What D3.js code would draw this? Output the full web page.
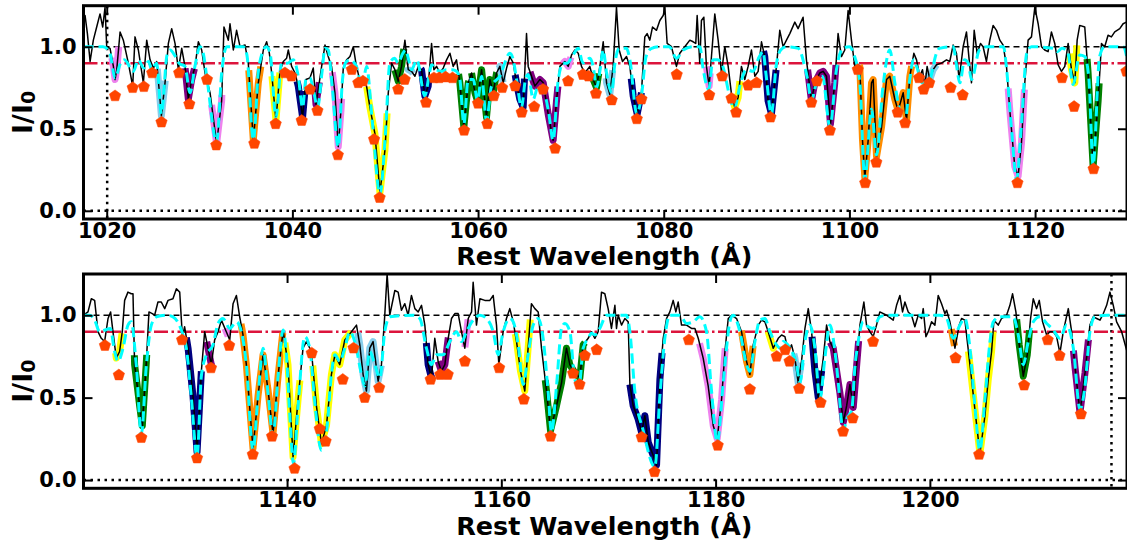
<!DOCTYPE html>
<html><head><meta charset="utf-8">
<script src="https://cdn.jsdelivr.net/npm/d3@7"></script>
<style>
body{margin:0;background:#fff;}
svg{display:block;font-family:"DejaVu Sans",sans-serif;}
</style></head><body>
<svg id="chart" width="1127" height="544"></svg>
<script>
// ---------------- DATA ----------------
const fluxDomain = [-0.05, 1.25];
const fluxTicks = [0.0, 0.5, 1.0];
const topWaveDomain = [1017.5, 1129.9];
const bottomWaveDomain = [1121.0, 1218.4];
const topWaveTicks = [1020, 1040, 1060, 1080, 1100, 1120];
const bottomWaveTicks = [1140, 1160, 1180, 1200];
const continuumLevel = 1.0;
const thresholdLevel = 0.9;
const zeroLevel = 0.0;
const topLimitWave = 1020.05;
const bottomLimitWave = 1216.95;
const xLabelText = "Rest Wavelength (Å)";

// observed spectrum, top panel [wavelength, I/I0]
const topObserved = [[1017.5,1.18],[1017.67,1.19],[1017.92,1.08],[1018.21,0.91],[1018.56,1.04],[1018.92,1.12],[1019.28,1.20],[1019.57,1.12],[1019.82,1.24],[1020.0,1.0],[1020.36,0.99],[1020.72,0.88],[1020.9,0.80],[1021.08,0.86],[1021.44,1.09],[1021.79,1.04],[1022.33,0.90],[1022.8,0.76],[1023.05,1.06],[1023.41,0.98],[1023.95,0.78],[1024.31,1.04],[1024.67,0.92],[1025.03,0.87],[1025.38,0.91],[1025.74,0.68],[1025.89,0.58],[1026.28,0.78],[1026.64,1.02],[1027.0,1.11],[1027.36,1.02],[1027.72,0.86],[1028.08,0.99],[1028.43,0.88],[1028.79,0.68],[1029.15,0.80],[1029.51,0.88],[1029.87,1.03],[1030.23,0.98],[1030.59,0.84],[1031.13,0.72],[1031.84,0.41],[1032.38,0.67],[1032.63,1.12],[1033.1,1.04],[1033.28,1.14],[1033.64,0.98],[1033.99,1.10],[1034.36,1.0],[1034.9,1.01],[1035.25,0.90],[1035.79,0.43],[1036.33,0.78],[1036.87,0.98],[1037.23,1.03],[1037.52,0.96],[1037.77,0.84],[1038.23,0.55],[1038.66,0.85],[1039.02,0.91],[1039.38,0.93],[1039.56,0.98],[1039.92,0.88],[1040.28,0.84],[1040.63,0.76],[1041.1,0.57],[1041.46,0.80],[1041.89,0.81],[1042.25,0.87],[1042.54,0.65],[1042.79,0.74],[1043.15,0.88],[1043.51,1.01],[1043.86,0.94],[1044.22,0.88],[1044.58,0.72],[1044.94,0.39],[1045.23,0.61],[1045.48,0.87],[1045.84,0.92],[1046.2,0.94],[1046.56,1.0],[1046.84,0.90],[1047.27,0.79],[1047.63,0.78],[1047.99,0.76],[1048.35,0.63],[1048.89,0.47],[1049.43,0.11],[1049.97,0.37],[1050.33,0.72],[1050.68,0.90],[1051.04,0.86],[1051.4,0.79],[1051.76,0.88],[1052.12,1.04],[1052.48,0.86],[1052.84,0.85],[1053.2,0.82],[1053.56,0.88],[1053.91,0.86],[1054.27,0.70],[1054.63,0.76],[1054.99,1.02],[1055.24,0.86],[1055.53,0.88],[1055.89,0.84],[1056.25,0.87],[1056.61,0.92],[1056.97,0.96],[1057.32,0.88],[1057.68,0.92],[1058.04,0.78],[1058.47,0.51],[1058.94,0.78],[1059.3,0.84],[1059.66,0.72],[1059.94,0.67],[1060.38,0.86],[1060.91,0.57],[1061.27,0.80],[1061.63,0.72],[1061.99,0.84],[1062.35,0.88],[1062.71,0.78],[1063.07,0.87],[1063.43,0.94],[1063.79,0.90],[1064.14,0.78],[1064.5,0.68],[1064.86,0.63],[1065.22,1.08],[1065.4,0.88],[1065.76,0.82],[1066.12,0.76],[1066.66,0.80],[1067.02,0.78],[1067.55,0.59],[1068.09,0.43],[1068.45,0.67],[1068.81,0.88],[1069.35,0.91],[1069.71,0.88],[1070.07,0.95],[1070.43,0.98],[1070.79,0.96],[1071.14,0.88],[1071.5,0.84],[1072.04,0.88],[1072.4,0.80],[1072.76,0.75],[1073.12,0.88],[1073.48,1.03],[1073.84,0.78],[1074.19,0.71],[1074.55,0.88],[1074.91,1.24],[1075.2,0.98],[1075.56,0.91],[1075.99,0.94],[1076.35,0.88],[1076.71,0.70],[1077.14,0.59],[1077.6,0.72],[1077.96,1.06],[1078.21,1.08],[1078.5,1.04],[1078.79,1.12],[1079.22,1.10],[1079.58,1.16],[1079.94,1.19],[1080.12,1.24],[1080.37,1.02],[1080.83,1.0],[1081.37,0.88],[1081.73,0.96],[1082.27,1.0],[1082.81,1.04],[1083.17,1.03],[1083.45,1.02],[1083.6,1.19],[1083.88,0.90],[1084.06,1.16],[1084.32,1.18],[1084.6,0.88],[1084.89,0.76],[1085.14,0.94],[1085.5,1.20],[1085.86,1.04],[1086.22,0.84],[1086.58,1.0],[1086.94,0.88],[1087.3,0.71],[1087.65,0.63],[1088.01,0.69],[1088.37,0.88],[1088.73,0.80],[1089.09,0.88],[1089.45,0.98],[1089.81,0.82],[1090.17,0.85],[1090.53,1.03],[1090.88,0.94],[1091.24,0.67],[1091.6,0.59],[1092.14,0.88],[1092.5,1.10],[1092.86,1.0],[1093.22,1.04],[1093.58,1.08],[1094.12,1.15],[1094.47,1.11],[1095.01,1.18],[1095.37,0.92],[1095.91,0.67],[1096.27,0.78],[1096.81,0.84],[1097.17,0.85],[1097.53,0.82],[1097.96,0.53],[1098.42,0.78],[1098.78,1.08],[1099.14,0.94],[1099.5,0.98],[1099.86,1.22],[1100.22,1.04],[1100.58,0.88],[1100.76,0.90],[1101.12,0.88],[1101.41,0.43],[1101.66,0.20],[1102.02,0.43],[1102.38,0.78],[1102.56,0.80],[1102.92,0.33],[1103.46,0.51],[1104.0,0.80],[1104.35,0.82],[1104.89,0.68],[1105.25,0.61],[1105.79,0.72],[1106.15,0.55],[1106.51,0.82],[1106.94,0.96],[1107.23,0.92],[1107.58,0.82],[1107.87,0.86],[1108.12,0.76],[1108.37,0.88],[1108.66,0.80],[1109.02,0.86],[1109.38,0.89],[1109.92,0.90],[1110.46,0.92],[1110.81,0.91],[1111.17,1.01],[1111.53,0.96],[1111.82,0.80],[1112.25,1.0],[1112.61,1.09],[1112.9,0.92],[1113.15,0.78],[1113.44,1.10],[1113.76,0.96],[1114.12,1.02],[1114.4,1.0],[1114.76,0.91],[1115.12,1.04],[1115.48,1.13],[1115.84,1.10],[1116.2,1.04],[1116.56,1.01],[1116.92,0.88],[1117.28,0.61],[1117.81,0.27],[1118.17,0.21],[1118.53,0.41],[1118.89,0.78],[1119.25,1.04],[1119.61,1.06],[1119.97,1.24],[1120.33,1.14],[1120.69,1.0],[1121.04,0.98],[1121.4,0.97],[1121.76,1.09],[1122.12,1.02],[1122.48,0.89],[1122.84,0.85],[1123.2,0.88],[1123.56,1.02],[1123.92,0.86],[1124.28,0.78],[1124.53,1.04],[1124.81,1.13],[1125.35,1.12],[1125.71,0.84],[1126.25,0.27],[1126.79,0.67],[1127.15,1.02],[1127.5,1.0],[1127.86,1.07],[1128.22,1.06],[1128.58,1.09],[1129.12,1.11],[1129.48,1.14],[1129.84,1.15]];

// fitted model, top panel
const topModel = [[1017.5,1.0],[1019.6,1.0],[1020.3,0.97],[1020.9,0.81],[1021.5,0.90],[1021.9,0.92],[1022.87,0.85],[1023.4,0.92],[1024.0,0.87],[1024.5,0.91],[1024.85,0.86],[1025.38,0.90],[1025.89,0.59],[1026.5,0.95],[1026.82,0.98],[1027.4,0.94],[1027.8,0.90],[1028.43,0.88],[1028.97,0.72],[1029.5,0.88],[1030.05,1.0],[1030.4,0.96],[1030.77,0.82],[1031.84,0.42],[1032.4,0.85],[1032.92,1.0],[1034.72,1.0],[1035.1,0.95],[1035.79,0.43],[1036.4,0.88],[1037.2,1.0],[1037.6,0.96],[1038.23,0.57],[1038.84,0.90],[1039.5,0.90],[1040.1,0.92],[1040.63,0.82],[1041.1,0.63],[1041.46,0.80],[1041.89,0.81],[1042.25,0.74],[1042.72,0.63],[1043.2,0.85],[1043.51,0.99],[1043.86,0.98],[1044.3,0.75],[1044.94,0.39],[1045.4,0.80],[1045.7,0.90],[1046.2,0.92],[1046.9,0.88],[1047.3,0.80],[1047.63,0.80],[1047.99,0.88],[1048.6,0.55],[1049.43,0.10],[1050.0,0.45],[1050.5,0.90],[1051.0,0.93],[1051.4,0.90],[1051.9,0.96],[1052.2,0.98],[1052.48,0.93],[1052.84,0.86],[1053.4,0.92],[1054.27,0.70],[1054.8,0.85],[1055.0,0.89],[1055.5,0.86],[1056.0,0.85],[1056.6,0.86],[1057.2,0.86],[1057.68,0.85],[1058.04,0.80],[1058.47,0.53],[1058.94,0.80],[1059.48,0.80],[1059.94,0.67],[1060.38,0.82],[1060.91,0.55],[1061.45,0.76],[1062.35,0.82],[1063.43,0.96],[1063.79,0.92],[1064.2,0.78],[1064.68,0.63],[1065.1,0.80],[1065.4,0.83],[1065.94,0.68],[1066.48,0.76],[1067.02,0.74],[1067.6,0.60],[1068.09,0.43],[1068.6,0.78],[1069.17,0.90],[1069.6,0.90],[1070.24,0.95],[1070.79,0.99],[1071.3,0.90],[1072.04,0.93],[1072.4,0.88],[1072.76,0.75],[1073.12,0.85],[1073.48,0.98],[1073.84,0.84],[1074.4,0.72],[1074.7,0.88],[1075.2,0.99],[1075.99,0.99],[1076.35,0.92],[1077.1,0.59],[1077.6,0.70],[1078.1,0.94],[1078.7,0.99],[1079.6,1.0],[1080.6,1.0],[1081.37,0.93],[1082.1,0.98],[1083.2,1.0],[1083.9,1.0],[1084.2,0.88],[1084.85,0.74],[1085.3,0.92],[1085.8,0.92],[1086.3,0.89],[1087.1,0.70],[1087.6,0.62],[1088.2,0.76],[1088.9,0.86],[1089.6,0.85],[1090.3,0.94],[1090.7,0.97],[1091.0,0.84],[1091.6,0.59],[1092.1,0.88],[1092.6,0.98],[1093.2,1.0],[1094.5,0.99],[1095.1,0.90],[1095.5,0.80],[1095.9,0.67],[1096.4,0.77],[1097.1,0.82],[1097.9,0.51],[1098.6,0.86],[1099.3,0.99],[1100.0,1.0],[1100.5,0.95],[1101.12,0.78],[1101.66,0.19],[1102.38,0.62],[1102.92,0.34],[1103.6,0.75],[1104.35,0.98],[1104.89,0.78],[1105.4,0.61],[1105.97,0.53],[1106.5,0.80],[1106.9,0.92],[1107.23,0.88],[1107.87,0.78],[1108.5,0.78],[1109.38,0.96],[1109.7,0.99],[1111.2,1.0],[1111.5,0.90],[1111.9,0.78],[1112.4,0.92],[1112.8,0.90],[1113.15,0.80],[1114.0,0.98],[1114.8,1.0],[1116.6,1.0],[1116.9,0.88],[1117.5,0.47],[1118.0,0.19],[1118.5,0.50],[1119.1,0.96],[1119.6,1.0],[1122.0,0.99],[1122.4,0.97],[1122.9,0.99],[1123.5,0.97],[1124.1,0.77],[1124.8,0.95],[1125.35,0.94],[1125.8,0.80],[1126.25,0.28],[1126.95,0.94],[1127.5,1.0],[1129.5,1.0],[1129.9,0.93]];

// fitted line centres, top panel
const topCentres = [[1020.9,0.70],[1022.8,0.75],[1024.0,0.756],[1024.9,0.84],[1025.9,0.54],[1027.8,0.84],[1028.9,0.65],[1030.8,0.80],[1031.8,0.40],[1035.9,0.41],[1038.2,0.53],[1039.2,0.84],[1039.9,0.82],[1041.0,0.55],[1041.9,0.74],[1042.7,0.61],[1044.9,0.34],[1046.4,0.86],[1047.1,0.78],[1047.6,0.79],[1048.8,0.435],[1049.4,0.08],[1051.4,0.74],[1052.1,0.80],[1054.4,0.66],[1055.25,0.81],[1055.8,0.81],[1056.5,0.815],[1057.25,0.81],[1058.5,0.49],[1060.0,0.655],[1061.0,0.53],[1061.7,0.70],[1062.6,0.75],[1064.0,0.76],[1064.7,0.60],[1066.05,0.634],[1067.0,0.74],[1068.3,0.38],[1069.7,0.79],[1071.3,0.83],[1071.9,0.82],[1072.7,0.715],[1074.4,0.675],[1077.1,0.56],[1077.6,0.68],[1081.4,0.83],[1084.9,0.705],[1086.3,0.82],[1087.3,0.685],[1087.8,0.60],[1089.1,0.765],[1090.0,0.78],[1091.5,0.57],[1095.9,0.66],[1096.5,0.79],[1097.9,0.49],[1100.9,0.86],[1101.7,0.17],[1102.9,0.295],[1105.2,0.60],[1106.0,0.535],[1107.5,0.81],[1108.0,0.74],[1108.6,0.78],[1110.9,0.75],[1112.2,0.705],[1118.1,0.17],[1122.9,0.81],[1124.2,0.635],[1126.3,0.255],[1129.84,0.85]];

// absorber components, top panel [start, end, component]
const topComponents = [[1020.55,1021.3,"A"],[1025.45,1026.3,"B"],[1028.45,1029.45,"C"],[1031.3,1032.4,"A"],[1035.3,1036.6,"D"],[1037.8,1038.65,"E"],[1040.5,1041.35,"F"],[1042.4,1042.9,"C"],[1044.3,1045.3,"A"],[1048.0,1050.2,"E"],[1051.05,1052.0,"G"],[1052.45,1053.0,"B"],[1053.85,1054.7,"F"],[1057.9,1059.0,"G"],[1059.3,1062.0,"G"],[1062.25,1062.7,"B"],[1064.0,1065.0,"F"],[1065.6,1068.6,"C"],[1069.1,1070.0,"A"],[1072.2,1073.0,"G"],[1073.8,1074.5,"B"],[1076.5,1077.6,"F"],[1084.6,1085.0,"A"],[1087.3,1088.2,"E"],[1090.75,1092.1,"F"],[1095.5,1098.55,"C"],[1101.1,1106.7,"D"],[1108.5,1109.4,"B"],[1117.1,1118.85,"A"],[1123.7,1124.5,"E"],[1125.6,1126.9,"G"]];

// observed spectrum, bottom panel
const bottomObserved = [[1121.0,1.0],[1121.42,1.02],[1121.73,1.10],[1122.04,1.09],[1122.35,0.90],[1122.66,0.86],[1122.97,0.84],[1123.29,0.98],[1123.53,1.02],[1123.75,0.90],[1124.06,0.74],[1124.37,0.78],[1124.62,0.90],[1124.84,1.09],[1125.15,1.14],[1125.46,1.13],[1125.62,1.13],[1125.77,0.70],[1126.24,0.45],[1126.49,0.33],[1126.86,0.71],[1127.11,1.02],[1127.42,1.01],[1127.64,1.0],[1127.95,1.08],[1128.26,1.08],[1128.58,1.04],[1128.89,1.09],[1129.35,1.10],[1129.67,1.16],[1129.98,1.14],[1130.23,0.87],[1130.44,0.93],[1130.76,0.80],[1131.22,0.51],[1131.6,0.17],[1132.0,0.66],[1132.31,0.90],[1132.62,0.80],[1132.93,0.70],[1133.24,0.85],[1133.56,0.90],[1133.87,0.97],[1134.33,0.90],[1134.65,0.85],[1134.96,1.07],[1135.27,1.12],[1135.58,0.99],[1135.89,0.88],[1136.2,0.70],[1136.82,0.19],[1137.29,0.51],[1137.76,0.76],[1138.22,0.55],[1138.69,0.28],[1139.16,0.63],[1139.63,0.91],[1140.09,0.70],[1140.56,0.14],[1141.03,0.49],[1141.49,0.80],[1141.81,0.84],[1142.28,0.78],[1142.74,0.45],[1143.21,0.22],[1143.68,0.33],[1144.14,0.64],[1144.46,0.76],[1144.92,0.70],[1145.39,0.85],[1146.01,0.90],[1146.48,0.94],[1146.79,0.82],[1147.1,0.64],[1147.41,0.54],[1147.72,0.80],[1148.03,0.84],[1148.5,0.60],[1148.81,0.70],[1149.12,1.0],[1149.34,1.25],[1149.59,1.0],[1150.06,1.15],[1150.37,1.14],[1150.68,1.03],[1150.99,1.07],[1151.3,1.0],[1151.61,1.12],[1151.93,1.04],[1152.24,1.02],[1152.55,1.06],[1152.86,0.94],[1153.17,0.70],[1153.48,0.62],[1153.79,0.86],[1154.1,0.72],[1154.41,0.66],[1154.73,0.70],[1155.04,0.86],[1155.35,0.98],[1155.66,1.01],[1155.97,1.01],[1156.28,0.90],[1156.59,0.80],[1156.91,0.98],[1157.22,1.02],[1157.37,1.20],[1157.68,0.94],[1158.0,1.10],[1158.46,1.09],[1158.93,1.09],[1159.24,1.12],[1159.55,0.94],[1159.77,0.70],[1160.17,0.90],[1160.48,0.98],[1160.79,1.04],[1161.11,0.96],[1161.42,0.84],[1161.79,0.66],[1162.19,0.54],[1162.5,0.80],[1162.81,1.07],[1163.13,1.04],[1163.44,1.02],[1163.75,0.80],[1164.22,0.54],[1164.59,0.30],[1165.15,0.45],[1165.62,0.59],[1166.08,0.80],[1166.39,0.70],[1166.86,0.65],[1167.33,0.62],[1167.64,0.82],[1168.11,0.86],[1168.42,0.90],[1168.73,0.86],[1169.04,0.90],[1169.35,1.14],[1169.66,1.13],[1169.97,1.04],[1170.28,0.92],[1170.6,1.06],[1170.75,0.92],[1170.91,1.0],[1171.22,0.94],[1171.53,0.98],[1171.84,0.96],[1172.0,0.58],[1172.31,0.45],[1172.77,0.37],[1173.09,0.29],[1173.4,0.39],[1173.71,0.23],[1174.17,0.15],[1174.49,0.09],[1174.8,0.61],[1175.11,0.86],[1175.42,0.98],[1175.73,1.02],[1176.04,1.09],[1176.29,1.02],[1176.51,1.08],[1176.82,0.94],[1177.29,0.94],[1177.75,0.92],[1178.07,0.92],[1178.38,0.86],[1178.84,0.74],[1179.31,0.57],[1179.78,0.33],[1180.15,0.25],[1180.56,0.49],[1180.87,0.78],[1181.18,0.98],[1181.49,1.0],[1181.96,0.98],[1182.42,0.90],[1182.89,0.72],[1183.2,0.64],[1183.51,0.82],[1183.98,0.94],[1184.29,0.97],[1184.6,0.96],[1184.91,0.90],[1185.38,0.80],[1185.85,0.86],[1186.16,0.88],[1186.47,0.87],[1186.78,0.78],[1187.09,0.82],[1187.4,0.74],[1187.71,0.59],[1188.02,0.72],[1188.34,0.92],[1188.65,1.04],[1188.96,0.90],[1189.27,0.66],[1189.58,0.50],[1190.05,0.74],[1190.36,0.94],[1190.67,0.84],[1190.98,0.80],[1191.6,0.53],[1191.92,0.35],[1192.23,0.45],[1192.54,0.58],[1192.85,0.44],[1193.32,0.82],[1193.47,0.94],[1193.84,1.08],[1194.09,0.94],[1194.4,0.90],[1194.71,0.87],[1195.02,0.94],[1195.33,1.02],[1195.96,1.0],[1196.58,0.97],[1196.89,1.06],[1197.2,1.12],[1197.45,1.02],[1197.67,1.08],[1197.98,1.02],[1198.29,1.0],[1198.6,0.93],[1198.91,1.0],[1199.23,0.98],[1199.38,1.04],[1199.63,0.87],[1199.85,0.90],[1200.16,0.96],[1200.47,0.94],[1200.78,1.12],[1201.09,1.07],[1201.4,1.01],[1201.56,1.03],[1201.87,0.96],[1202.34,0.80],[1202.74,0.94],[1202.96,0.98],[1203.27,0.97],[1203.74,0.70],[1204.2,0.43],[1204.67,0.16],[1205.14,0.39],[1205.45,0.61],[1205.76,0.78],[1205.98,0.97],[1206.38,0.94],[1206.69,0.98],[1207.16,1.0],[1207.47,1.06],[1207.72,1.13],[1208.03,1.02],[1208.34,0.82],[1208.72,0.63],[1209.09,0.76],[1209.4,0.98],[1209.65,1.10],[1209.96,1.04],[1210.21,1.09],[1210.52,0.96],[1210.9,0.88],[1211.21,0.90],[1211.52,0.90],[1211.83,0.87],[1212.14,0.77],[1212.45,0.90],[1212.92,1.04],[1213.23,0.90],[1213.54,0.69],[1214.01,0.41],[1214.48,0.65],[1214.94,0.94],[1215.25,0.99],[1215.57,0.98],[1215.88,0.97],[1216.19,1.01],[1216.5,1.06],[1216.81,1.14],[1217.12,1.06],[1217.43,0.96],[1217.9,0.90],[1218.4,0.78]];

// fitted model, bottom panel
const bottomModel = [[1121.0,1.0],[1121.6,1.0],[1122.04,0.97],[1122.51,0.90],[1123.0,0.91],[1123.5,0.92],[1123.9,0.78],[1124.22,0.72],[1124.69,0.80],[1125.15,0.94],[1125.46,0.96],[1125.93,0.69],[1126.4,0.28],[1126.86,0.69],[1127.33,0.94],[1127.8,0.99],[1128.73,1.0],[1129.35,0.99],[1130.13,0.91],[1130.6,0.80],[1131.07,0.50],[1131.6,0.14],[1132.0,0.63],[1132.47,0.76],[1133.09,0.82],[1133.56,0.95],[1134.02,0.98],[1134.65,0.92],[1135.27,0.96],[1135.74,0.90],[1136.2,0.70],[1136.82,0.18],[1137.29,0.51],[1137.76,0.80],[1138.22,0.53],[1138.69,0.27],[1139.16,0.63],[1139.63,0.91],[1139.94,0.76],[1140.25,0.40],[1140.6,0.10],[1141.03,0.45],[1141.65,0.87],[1142.12,0.80],[1142.59,0.47],[1143.21,0.18],[1143.68,0.29],[1144.14,0.64],[1144.46,0.76],[1144.92,0.72],[1145.39,0.80],[1145.86,0.90],[1146.32,0.84],[1146.95,0.64],[1147.26,0.57],[1147.72,0.78],[1148.19,0.70],[1148.66,0.62],[1149.12,0.90],[1149.59,0.99],[1151.77,1.0],[1152.39,0.98],[1153.01,0.80],[1153.48,0.70],[1153.95,0.76],[1154.57,0.76],[1155.19,0.84],[1155.82,0.90],[1156.28,0.84],[1156.75,0.90],[1157.37,0.97],[1158.0,1.0],[1158.62,0.98],[1159.24,0.90],[1159.71,0.76],[1160.17,0.90],[1160.79,0.98],[1161.11,0.96],[1161.57,0.82],[1162.04,0.58],[1162.5,0.76],[1162.97,0.94],[1163.44,0.98],[1163.9,0.86],[1164.37,0.53],[1164.68,0.29],[1165.15,0.57],[1165.62,0.92],[1165.93,0.95],[1166.4,0.90],[1166.86,0.61],[1167.25,0.57],[1167.64,0.80],[1168.11,0.86],[1168.42,0.89],[1168.73,0.88],[1169.19,0.92],[1169.82,1.0],[1171.68,1.0],[1172.0,0.90],[1172.46,0.54],[1173.24,0.30],[1174.33,0.08],[1174.8,0.51],[1175.26,0.86],[1175.73,1.0],[1176.66,1.0],[1177.29,0.95],[1177.91,0.96],[1178.53,0.99],[1179.15,0.90],[1179.62,0.54],[1180.15,0.23],[1180.71,0.59],[1181.02,0.80],[1181.33,0.96],[1181.64,1.0],[1182.27,0.90],[1182.89,0.70],[1183.2,0.66],[1183.67,0.84],[1184.13,0.97],[1184.6,0.98],[1185.07,0.90],[1185.69,0.82],[1186.0,0.80],[1186.31,0.84],[1186.94,0.80],[1187.56,0.70],[1187.87,0.59],[1188.34,0.84],[1188.8,0.94],[1189.27,0.80],[1189.74,0.49],[1190.2,0.74],[1190.67,0.94],[1191.14,0.78],[1191.45,0.59],[1191.9,0.30],[1192.3,0.38],[1192.7,0.42],[1193.0,0.68],[1193.31,0.84],[1193.78,0.96],[1194.25,0.93],[1194.71,0.92],[1195.33,0.99],[1196.0,1.0],[1200.94,1.0],[1201.56,0.98],[1202.18,0.86],[1202.8,0.94],[1203.27,0.98],[1203.74,0.80],[1204.2,0.45],[1204.67,0.18],[1205.14,0.49],[1205.61,0.84],[1205.92,0.96],[1206.54,0.99],[1207.78,0.99],[1208.25,0.88],[1208.72,0.70],[1209.18,0.84],[1209.65,0.96],[1210.27,0.99],[1210.9,0.95],[1211.52,0.91],[1212.14,0.86],[1212.76,0.94],[1213.39,0.80],[1214.01,0.43],[1214.48,0.57],[1214.94,0.90],[1215.41,0.99],[1216.5,1.0],[1218.4,1.0]];

// fitted line centres, bottom panel
const bottomCentres = [[1123.0,0.816],[1124.3,0.637],[1126.4,0.257],[1130.2,0.85],[1131.6,0.133],[1132.9,0.68],[1134.6,0.816],[1136.8,0.155],[1138.6,0.265],[1140.7,0.07],[1142.3,0.77],[1143.05,0.31],[1143.6,0.235],[1145.2,0.61],[1146.2,0.80],[1147.25,0.50],[1148.6,0.56],[1153.4,0.61],[1154.3,0.64],[1155.0,0.64],[1156.6,0.72],[1159.8,0.68],[1162.1,0.49],[1164.6,0.265],[1166.7,0.647],[1167.3,0.58],[1167.8,0.755],[1168.9,0.79],[1173.1,0.26],[1174.3,0.05],[1177.5,0.85],[1180.2,0.21],[1183.2,0.55],[1185.7,0.75],[1186.5,0.79],[1186.9,0.72],[1187.8,0.555],[1189.8,0.47],[1191.9,0.295],[1192.8,0.375],[1194.7,0.84],[1202.4,0.74],[1204.6,0.155],[1208.8,0.575],[1211.0,0.85],[1212.1,0.755],[1214.1,0.40]];

// absorber components, bottom panel
const bottomComponents = [[1124.0,1124.6,"E"],[1125.75,1126.9,"G"],[1130.6,1132.0,"F"],[1132.5,1132.95,"C"],[1134.2,1134.5,"A"],[1135.7,1139.6,"D"],[1139.8,1141.2,"E"],[1142.4,1146.0,"E"],[1146.6,1148.8,"B"],[1153.0,1153.5,"F"],[1154.1,1155.05,"C"],[1156.6,1156.9,"A"],[1161.3,1162.7,"E"],[1164.1,1167.8,"G"],[1172.0,1175.0,"F"],[1178.5,1180.9,"A"],[1182.4,1183.5,"D"],[1184.9,1185.5,"E"],[1187.3,1188.0,"B"],[1189.0,1189.9,"F"],[1190.7,1193.35,"C"],[1202.0,1202.3,"D"],[1203.6,1205.9,"E"],[1208.1,1209.3,"G"],[1213.4,1214.8,"C"]];

// ---------------- STYLE ----------------
const componentColor = d3.scaleOrdinal()
  .domain(["A","B","C","D","E","F","G"])
  .range(["#ee82ee","#87ceeb","#800080","#ff8c00","#ffff00","#000080","#008000"]);

const svg = d3.select("#chart");

function pentagonPath(r){
  const pts = d3.range(5).map(k => {
    const a = -Math.PI/2 + k*2*Math.PI/5;
    return [r*Math.cos(a), r*Math.sin(a)];
  });
  return "M" + pts.map(p => p[0].toFixed(2)+","+p[1].toFixed(2)).join("L") + "Z";
}

function sliceSpectrum(data, start, end){
  const bis = d3.bisector(d => d[0]).left;
  const interp = w => {
    const i = bis(data, w);
    if (i <= 0) return data[0][1];
    if (i >= data.length) return data[data.length-1][1];
    const a = data[i-1], b = data[i];
    const t = (w - a[0])/(b[0]-a[0]);
    return a[1] + t*(b[1]-a[1]);
  };
  const inner = data.filter(d => d[0] > start && d[0] < end);
  return [[start, interp(start)], ...inner, [end, interp(end)]];
}

function drawPanel(p){
  const b = p.box;
  const x = d3.scaleLinear().domain(p.domain).range([b.left, b.right]);
  const y = d3.scaleLinear().domain(fluxDomain).range([b.bottom, b.top]);
  const g = svg.append("g");
  const clipId = "clip-" + p.id;
  svg.append("defs").append("clipPath").attr("id", clipId)
    .append("rect").attr("x", b.left).attr("y", b.top)
    .attr("width", b.right - b.left).attr("height", b.bottom - b.top);
  const plot = g.append("g").attr("clip-path", `url(#${clipId})`);

  // reference lines
  plot.append("line").attr("x1", b.left).attr("x2", b.right)
    .attr("y1", y(continuumLevel)).attr("y2", y(continuumLevel))
    .attr("stroke", "#000").attr("stroke-width", 1.6).attr("stroke-dasharray", "6,4");
  plot.append("line").attr("x1", b.left).attr("x2", b.right)
    .attr("y1", y(zeroLevel)).attr("y2", y(zeroLevel))
    .attr("stroke", "#000").attr("stroke-width", 2.5).attr("stroke-dasharray", "2.5,4.5");
  plot.append("line").attr("x1", x(p.limit)).attr("x2", x(p.limit))
    .attr("y1", b.top).attr("y2", b.bottom)
    .attr("stroke", "#000").attr("stroke-width", 2.5).attr("stroke-dasharray", "2.5,4.5");
  plot.append("line").attr("x1", b.left).attr("x2", b.right)
    .attr("y1", y(thresholdLevel)).attr("y2", y(thresholdLevel))
    .attr("stroke", "#dc143c").attr("stroke-width", 2.5).attr("stroke-dasharray", "14,3.5,2.5,3.5");

  const lineLin = d3.line().x(d => x(d[0])).y(d => y(d[1]));
  // component segments
  p.components.forEach(c => {
    plot.append("path").datum(sliceSpectrum(p.observed, c[0], c[1]))
      .attr("d", lineLin).attr("fill", "none")
      .attr("stroke", componentColor(c[2])).attr("stroke-width", 7)
      .attr("stroke-linejoin", "round");
  });
  // observed
  plot.append("path").datum(p.observed).attr("d", lineLin)
    .attr("fill", "none").attr("stroke", "#000").attr("stroke-width", 1.5)
    .attr("stroke-linejoin", "round");
  // model
  const lineSmooth = d3.line().x(d => x(d[0])).y(d => y(d[1])).curve(d3.curveMonotoneX);
  plot.append("path").datum(p.model).attr("d", lineSmooth)
    .attr("fill", "none").attr("stroke", "#00ffff").attr("stroke-width", 3)
    .attr("stroke-dasharray", "10,5");
  // centres
  const pent = pentagonPath(6);
  plot.selectAll("path.centre").data(p.centres).enter().append("path")
    .attr("class", "centre").attr("d", pent)
    .attr("transform", d => `translate(${x(d[0])},${y(d[1])})`)
    .attr("fill", "#ff4500").attr("stroke", "#ff4500").attr("stroke-width", 0.5);

  // axes with inward ticks
  const styleAxis = sel => {
    sel.select(".domain").remove();
    sel.selectAll(".tick line").attr("stroke", "#000").attr("stroke-width", 2);
    sel.selectAll(".tick text").attr("fill", "#000")
      .style("font-size", "21px").style("font-weight", "bold")
      .style("font-family", "'DejaVu Sans', sans-serif");
  };
  g.append("g").attr("transform", `translate(0,${b.bottom})`)
    .call(d3.axisBottom(x).tickValues(p.ticks).tickSize(-9).tickPadding(4).tickFormat(d3.format("d")))
    .call(styleAxis);
  g.append("g").attr("transform", `translate(0,${b.top})`)
    .call(d3.axisTop(x).tickValues(p.ticks).tickSize(-9).tickFormat(""))
    .call(styleAxis);
  g.append("g").attr("transform", `translate(${b.left},0)`)
    .call(d3.axisLeft(y).tickValues(fluxTicks).tickSize(-9).tickPadding(7).tickFormat(d3.format(".1f")))
    .call(styleAxis);
  g.append("g").attr("transform", `translate(${b.right},0)`)
    .call(d3.axisRight(y).tickValues(fluxTicks).tickSize(-9).tickFormat(""))
    .call(styleAxis);

  // frame
  g.append("rect").attr("x", b.left).attr("y", b.top)
    .attr("width", b.right - b.left).attr("height", b.bottom - b.top)
    .attr("fill", "none").attr("stroke", "#000").attr("stroke-width", 3);

  // labels
  g.append("text").attr("x", (b.left + b.right)/2 - 1).attr("y", p.xLabelY)
    .attr("text-anchor", "middle").style("font-size", "25.5px").style("font-weight", "bold")
    .text(xLabelText);
  const yl = g.append("text")
    .attr("transform", `translate(32,${(b.top + b.bottom)/2}) rotate(-90)`)
    .attr("text-anchor", "middle").style("font-size", "27px").style("font-weight", "bold");
  yl.append("tspan").text("I/I");
  yl.append("tspan").attr("dy", 3).style("font-size", "19px").text("0");
}

drawPanel({
  id: "top", domain: topWaveDomain, ticks: topWaveTicks, limit: topLimitWave,
  observed: topObserved, model: topModel, centres: topCentres, components: topComponents,
  box: {left: 83.5, right: 1127, top: 5.7, bottom: 219}, xLabelY: 265
});
drawPanel({
  id: "bottom", domain: bottomWaveDomain, ticks: bottomWaveTicks, limit: bottomLimitWave,
  observed: bottomObserved, model: bottomModel, centres: bottomCentres, components: bottomComponents,
  box: {left: 83.5, right: 1127, top: 274, bottom: 488.3}, xLabelY: 535
});
</script>
</body></html>
